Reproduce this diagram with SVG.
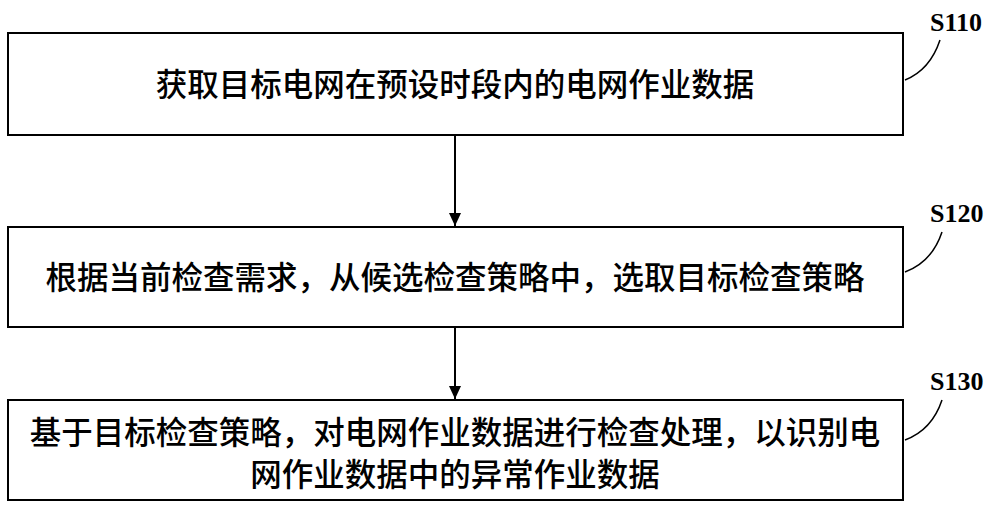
<svg xmlns="http://www.w3.org/2000/svg" width="1000" height="510" viewBox="0 0 1000 510">
<style>
.b{fill:#fff;stroke:#000;stroke-width:2}
.t{font-family:"Noto Sans CJK SC",sans-serif;font-size:31.5px;font-weight:500;text-anchor:middle}
.s{font-family:"Liberation Serif",serif;font-size:26px;font-weight:bold}
.c{fill:none;stroke:#000;stroke-width:1.5}
</style>
<defs><marker id="a" markerWidth="14" markerHeight="14" refX="13" refY="6" orient="auto" markerUnits="userSpaceOnUse"><path d="M0,0L13,6L0,12z"/></marker></defs>
<rect width="1000" height="510" fill="#fff"/>
<g id="n1"><rect class="b" x="8" y="33" width="895" height="102"/><text class="t" x="455" y="96">获取目标电网在预设时段内的电网作业数据</text><text class="s" x="930" y="31">S110</text><path class="c" d="M905,80 Q930,70 940,40"/></g>
<g id="n2"><rect class="b" x="8" y="227" width="895" height="100"/><text class="t" x="455" y="289">根据当前检查需求，从候选检查策略中，选取目标检查策略</text><text class="s" x="930" y="222">S120</text><path class="c" d="M905,272 Q932,262 942,232"/></g>
<g id="n3"><rect class="b" x="8" y="400" width="895" height="100"/><text class="t" x="455" y="444">基于目标检查策略，对电网作业数据进行检查处理，以识别电</text><text class="t" x="455" y="486">网作业数据中的异常作业数据</text><text class="s" x="930" y="390">S130</text><path class="c" d="M905,440 Q932,430 942,400"/></g>
<g id="connectors" stroke="#000" stroke-width="2"><line x1="455" y1="135" x2="455" y2="226" marker-end="url(#a)"/><line x1="455" y1="327" x2="455" y2="399" marker-end="url(#a)"/></g>
</svg>
